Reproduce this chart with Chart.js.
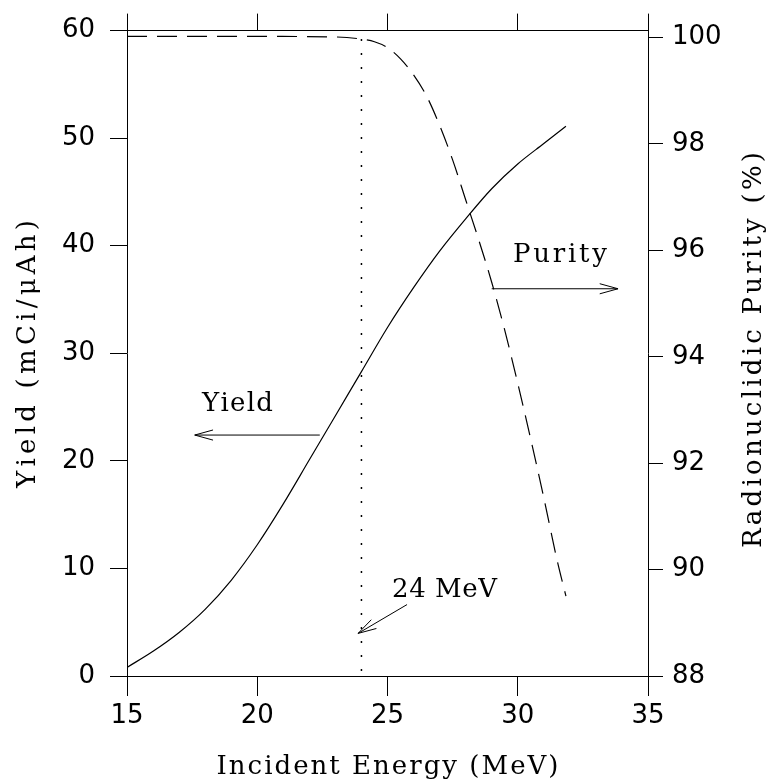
<!DOCTYPE html>
<html>
<head>
<meta charset="utf-8">
<script src="https://cdn.jsdelivr.net/npm/chart.js@4.4.1/dist/chart.umd.min.js"></script>
<style>
  html, body { margin: 0; padding: 0; background: #fff; }
  #wrap { width: 771px; height: 782px; }
</style>
</head>
<body>
<div id="wrap"><canvas id="chart" width="771" height="782"></canvas></div>
<script>
// values
const yieldEnergy = [15, 16, 17, 18, 19, 20, 21, 22, 23, 24, 25, 26, 27, 28, 29, 30, 31, 31.85];
const yieldValues = [0.8, 2.3, 4.05, 6.2, 8.9, 12.2, 16.0, 20.1, 24.2, 28.3, 32.4, 36.1, 39.5, 42.5, 45.3, 47.6, 49.5, 51.1];

const purityEnergy = [15, 20, 23, 24, 24.5, 25, 25.5, 26, 26.5, 27, 27.5, 28, 28.5, 29, 29.5, 30, 30.5, 31, 31.5, 31.85];
const purityValues = [100.02, 100.02, 100.01, 99.97, 99.92, 99.81, 99.6, 99.3, 98.9, 98.35, 97.7, 96.95, 96.2, 95.4, 94.5, 93.5, 92.45, 91.35, 90.2, 89.5];

const markerEnergy = 24;          // dotted line "24 MeV"
const markerPurity = [99.97, 88];

const energyTicks = [15, 20, 25, 30, 35];
const yieldTicks = [0, 10, 20, 30, 40, 50, 60];
const purityTicks = [88, 90, 92, 94, 96, 98, 100];

const toPoints = (xs, ys) => xs.map((x, i) => ({ x: x, y: ys[i] }));

const textFont = '26px "DejaVu Serif", "Liberation Serif", serif';
const tickFont = { family: '"DejaVu Sans", sans-serif', size: 26 };

// draws text spread so that it spans `width` pixels, centred on cx
function spreadText(ctx, text, cx, cy, width) {
  const chars = Array.from(text);
  const w = chars.map(c => ctx.measureText(c).width);
  const total = w.reduce((a, b) => a + b, 0);
  const gap = chars.length > 1 ? (width - total) / (chars.length - 1) : 0;
  let x = cx - width / 2;
  ctx.textAlign = "left";
  chars.forEach((c, i) => { ctx.fillText(c, x, cy); x += w[i] + gap; });
}

function arrow(ctx, x1, y1, x2, y2) {
  const a = Math.atan2(y2 - y1, x2 - x1);
  const len = 19, spread = 0.27;
  ctx.beginPath();
  ctx.moveTo(x1, y1);
  ctx.lineTo(x2, y2);
  ctx.moveTo(x2 - len * Math.cos(a - spread), y2 - len * Math.sin(a - spread));
  ctx.lineTo(x2, y2);
  ctx.lineTo(x2 - len * Math.cos(a + spread), y2 - len * Math.sin(a + spread));
  ctx.stroke();
}

const notesPlugin = {
  id: "notes",
  afterDraw(chart) {
    const ctx = chart.ctx;
    const x = chart.scales.x, y = chart.scales.y;
    const area = chart.chartArea;
    ctx.save();
    ctx.fillStyle = "#000";
    ctx.strokeStyle = "#000";
    ctx.lineWidth = 1;
    ctx.font = textFont;

    // annotations (placed in data units)
    ctx.textBaseline = "alphabetic";
    spreadText(ctx, "Yield", x.getPixelForValue(19.24), y.getPixelForValue(24.6), 71);
    arrow(ctx, x.getPixelForValue(22.4), y.getPixelForValue(22.4), x.getPixelForValue(17.6), y.getPixelForValue(22.4));
    spreadText(ctx, "Purity", x.getPixelForValue(31.62), y.getPixelForValue(38.5), 94);
    arrow(ctx, x.getPixelForValue(29.0), y.getPixelForValue(36.0), x.getPixelForValue(33.85), y.getPixelForValue(36.0));
    spreadText(ctx, "24 MeV", x.getPixelForValue(27.19), y.getPixelForValue(7.3), 105);
    arrow(ctx, x.getPixelForValue(25.75), y.getPixelForValue(6.64), x.getPixelForValue(23.87), y.getPixelForValue(3.96));

    // axis titles
    ctx.textBaseline = "middle";
    spreadText(ctx, "Incident Energy (MeV)", (area.left + area.right) / 2, 767, 342);
    ctx.save();
    ctx.translate(28, 354);
    ctx.rotate(-Math.PI / 2);
    spreadText(ctx, "Yield (mCi/\u03BCAh)", 0, 0, 268);
    ctx.restore();
    ctx.save();
    ctx.translate(754, 350);
    ctx.rotate(-Math.PI / 2);
    spreadText(ctx, "Radionuclidic Purity (%)", 0, 0, 396);
    ctx.restore();
    ctx.restore();
  }
};

const axisGrid = (len) => ({ drawOnChartArea: false, drawTicks: true, tickLength: len, color: "#000", lineWidth: 1 });
const axisBorder = { display: true, color: "#000", width: 1 };

new Chart(document.getElementById("chart").getContext("2d"), {
  type: "line",
  data: {
    datasets: [
      {
        label: "Yield",
        data: toPoints(yieldEnergy, yieldValues),
        xAxisID: "x", yAxisID: "y",
        borderColor: "#000", borderWidth: 1.2,
        pointRadius: 0, cubicInterpolationMode: "monotone"
      },
      {
        label: "Purity",
        data: toPoints(purityEnergy, purityValues),
        xAxisID: "x", yAxisID: "y2",
        borderColor: "#000", borderWidth: 1.2, borderDash: [20, 10],
        pointRadius: 0, cubicInterpolationMode: "monotone"
      },
      {
        label: "24 MeV",
        data: toPoints([markerEnergy, markerEnergy], markerPurity),
        xAxisID: "x", yAxisID: "y2",
        borderColor: "#000", borderWidth: 1.5, borderDash: [2, 12],
        pointRadius: 0
      }
    ]
  },
  options: {
    responsive: false,
    animation: false,
    devicePixelRatio: 1,
    layout: { padding: 0 },
    plugins: { legend: { display: false }, tooltip: { enabled: false } },
    scales: {
      x: {
        type: "linear", position: "bottom", min: 15, max: 35,
        afterBuildTicks: (s) => { s.ticks = energyTicks.map(v => ({ value: v })); },
        afterFit: (s) => { s.height = 106; },
        ticks: { color: "#000", font: tickFont, padding: 5, maxRotation: 0 },
        grid: axisGrid(20), border: axisBorder
      },
      xTop: {
        type: "linear", position: "top", min: 15, max: 35,
        afterBuildTicks: (s) => { s.ticks = energyTicks.map(v => ({ value: v })); },
        afterFit: (s) => { s.height = 25; },
        ticks: { display: false },
        grid: axisGrid(17), border: axisBorder
      },
      y: {
        type: "linear", position: "left", min: 0, max: 60,
        afterBuildTicks: (s) => { s.ticks = yieldTicks.map(v => ({ value: v })); },
        afterFit: (s) => { s.width = 127; },
        ticks: { color: "#000", font: tickFont, padding: 15 },
        grid: axisGrid(17), border: axisBorder
      },
      y2: {
        type: "linear", position: "right", min: 88, max: 100.13,
        afterBuildTicks: (s) => { s.ticks = purityTicks.map(v => ({ value: v })); },
        afterFit: (s) => { s.width = 123; },
        ticks: { color: "#000", font: tickFont, padding: 9 },
        grid: axisGrid(15), border: axisBorder
      }
    }
  },
  plugins: [notesPlugin]
});
</script>
</body>
</html>
